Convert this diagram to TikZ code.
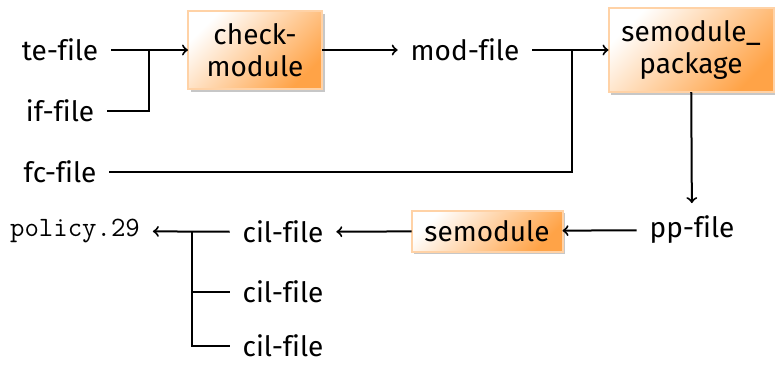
\documentclass[tikz,border=0pt]{standalone}
\usepackage{fontspec}
\setsansfont[Ligatures=NoCommon]{Fira Sans}
\usepackage{tikz}
\usetikzlibrary{shadows}
\usepackage{color,xcolor}

\tikzset{
    filenode/.style={inner xsep=6.5pt, inner ysep=2pt, outer sep=0pt},
    toolbox/.style={draw=orange!35, line width=1pt, top color=white, bottom color=orange!72,
        shading angle=45, inner sep=2pt, outer sep=0pt, align=center,
        drop shadow={shadow xshift=1.3pt, shadow yshift=-1.3pt, fill=black!22, opacity=1}},
    flow/.style={line width=1pt}
}

\begin{document}
\begin{tikzpicture}[x=0.5pt, y=-0.5pt, font=\sffamily\fontsize{14}{16}\selectfont]
        \useasboundingbox (0,0) rectangle (775,365);
        % Input files
        \node[filenode] (te) at (60,50) {te-file};
        \node[filenode] (if) at (60,111) {if-file};
        \node[filenode] (fc) at (60,172) {fc-file};

        % Tools and intermediate files
        \node[toolbox, minimum width=67pt, minimum height=39pt] (chk) at (255,50) {check-\\module};
        \node[filenode] (mod) at (465,50) {mod-file};
        \node[toolbox, minimum width=82.5pt, minimum height=42pt] (pkg) at (691,50) {semodule\_\\package};
        \node[filenode, inner ysep=6.5pt] (pp) at (692,230) {pp-file};
        \node[toolbox, minimum width=75.5pt, minimum height=20.5pt] (semod) at (487,231) {semodule};

        % Output files
        \node[filenode] (cila) at (283,232) {cil-file};
        \node[filenode] (cilb) at (283,292) {cil-file};
        \node[filenode] (cilc) at (283,346) {cil-file};
        \node[filenode, font=\ttfamily\fontsize{14}{16}\selectfont] (pol) at (75,231) {policy.29};

        % Junctions
        \coordinate (ja) at (149,50);
        \coordinate (jb) at (572,50);
        \coordinate (jc) at (192,232);

        % Connectors
        \draw[flow,->] (te) -- (chk);
        \draw[flow] (if) -| (ja);
        \draw[flow,->] (chk) -- (mod);
        \draw[flow,->] (mod) -- (pkg);
        \draw[flow] (fc) -| (jb);
        \draw[flow,->] (pkg) -- (pp);
        \draw[flow,->] (pp) -- (semod);
        \draw[flow,->] (semod) -- (cila);
        \draw[flow,->] (cila) -- (pol);
        \draw[flow] (cilb) -| (jc);
        \draw[flow] (cilc) -| (jc);
    \end{tikzpicture}
\end{document}
